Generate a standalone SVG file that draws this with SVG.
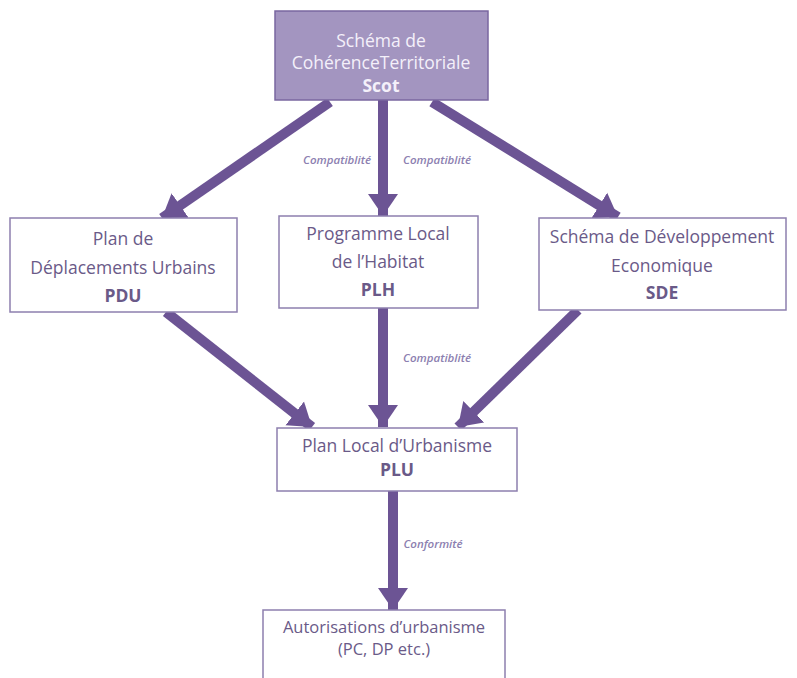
<svg xmlns="http://www.w3.org/2000/svg" width="797" height="678" viewBox="0 0 797 678">
<style>
.box{fill:#ffffff;stroke:#8d7fae;stroke-width:1.5}
.top{fill:#a395c0;stroke:#7a67a0;stroke-width:1.5}
.t{font-family:"Open Sans","Liberation Sans",sans-serif;font-size:17.5px;fill:#6a5a88;text-anchor:middle}
.tw{font-family:"Open Sans","Liberation Sans",sans-serif;font-size:17.5px;fill:#f4f0fa;text-anchor:middle}
.s{font-size:16.5px}
.b{font-weight:bold}
.lbl{font-family:"Open Sans","Liberation Sans",sans-serif;font-size:11.5px;font-style:italic;font-weight:600;fill:#8c80b0;text-anchor:middle}
.arr{stroke:#6c5494;stroke-width:10;fill:none;marker-end:url(#ah)}
</style>
<defs>
<marker id="ah" markerUnits="userSpaceOnUse" markerWidth="24" markerHeight="32" refX="22" refY="15" orient="auto" viewBox="0 0 24 30">
<path d="M0,0 L22,15 L0,30 Z" fill="#6c5494"/>
</marker>
</defs>
<rect width="797" height="678" fill="#ffffff"/>
<g id="connectors">
<line class="arr" x1="330" y1="102" x2="162" y2="218"/>
<line class="arr" x1="383" y1="100" x2="383" y2="216"/>
<line class="arr" x1="432" y1="102" x2="618" y2="217"/>
<line class="arr" x1="166" y1="312" x2="312" y2="427"/>
<line class="arr" x1="383" y1="308" x2="383" y2="427"/>
<line class="arr" x1="578" y1="310" x2="458" y2="427"/>
<line class="arr" x1="393" y1="491" x2="393" y2="610"/>
<text class="lbl" x="337" y="164">Compatiblité</text>
<text class="lbl" x="437" y="164">Compatiblité</text>
<text class="lbl" x="437" y="362">Compatiblité</text>
<text class="lbl" x="433" y="548">Conformité</text>
</g>
<g id="scot">
<rect class="top" x="275" y="11" width="213" height="89"/>
<text class="tw" x="381" y="47">Schéma de</text>
<text class="tw" x="381" y="69">CohérenceTerritoriale</text>
<text class="tw b" x="381" y="92">Scot</text>
</g>
<g id="pdu">
<rect class="box" x="10" y="218" width="227" height="94"/>
<text class="t" x="123" y="245">Plan de</text>
<text class="t" x="123" y="274">Déplacements Urbains</text>
<text class="t b" x="123" y="302">PDU</text>
</g>
<g id="plh">
<rect class="box" x="279" y="216" width="199" height="92"/>
<text class="t" x="378" y="240">Programme Local</text>
<text class="t" x="378" y="268">de l’Habitat</text>
<text class="t b" x="378" y="296">PLH</text>
</g>
<g id="sde">
<rect class="box" x="539" y="218" width="247" height="92"/>
<text class="t" x="662" y="243">Schéma de Développement</text>
<text class="t" x="662" y="272">Economique</text>
<text class="t b" x="662" y="299">SDE</text>
</g>
<g id="plu">
<rect class="box" x="277" y="428" width="240" height="63"/>
<text class="t" x="397" y="452">Plan Local d’Urbanisme</text>
<text class="t b" x="397" y="476">PLU</text>
</g>
<g id="autorisations">
<rect class="box" x="263" y="610" width="242" height="80"/>
<text class="t s" x="384" y="633">Autorisations d’urbanisme</text>
<text class="t s" x="384" y="655">(PC, DP etc.)</text>
</g>
</svg>
